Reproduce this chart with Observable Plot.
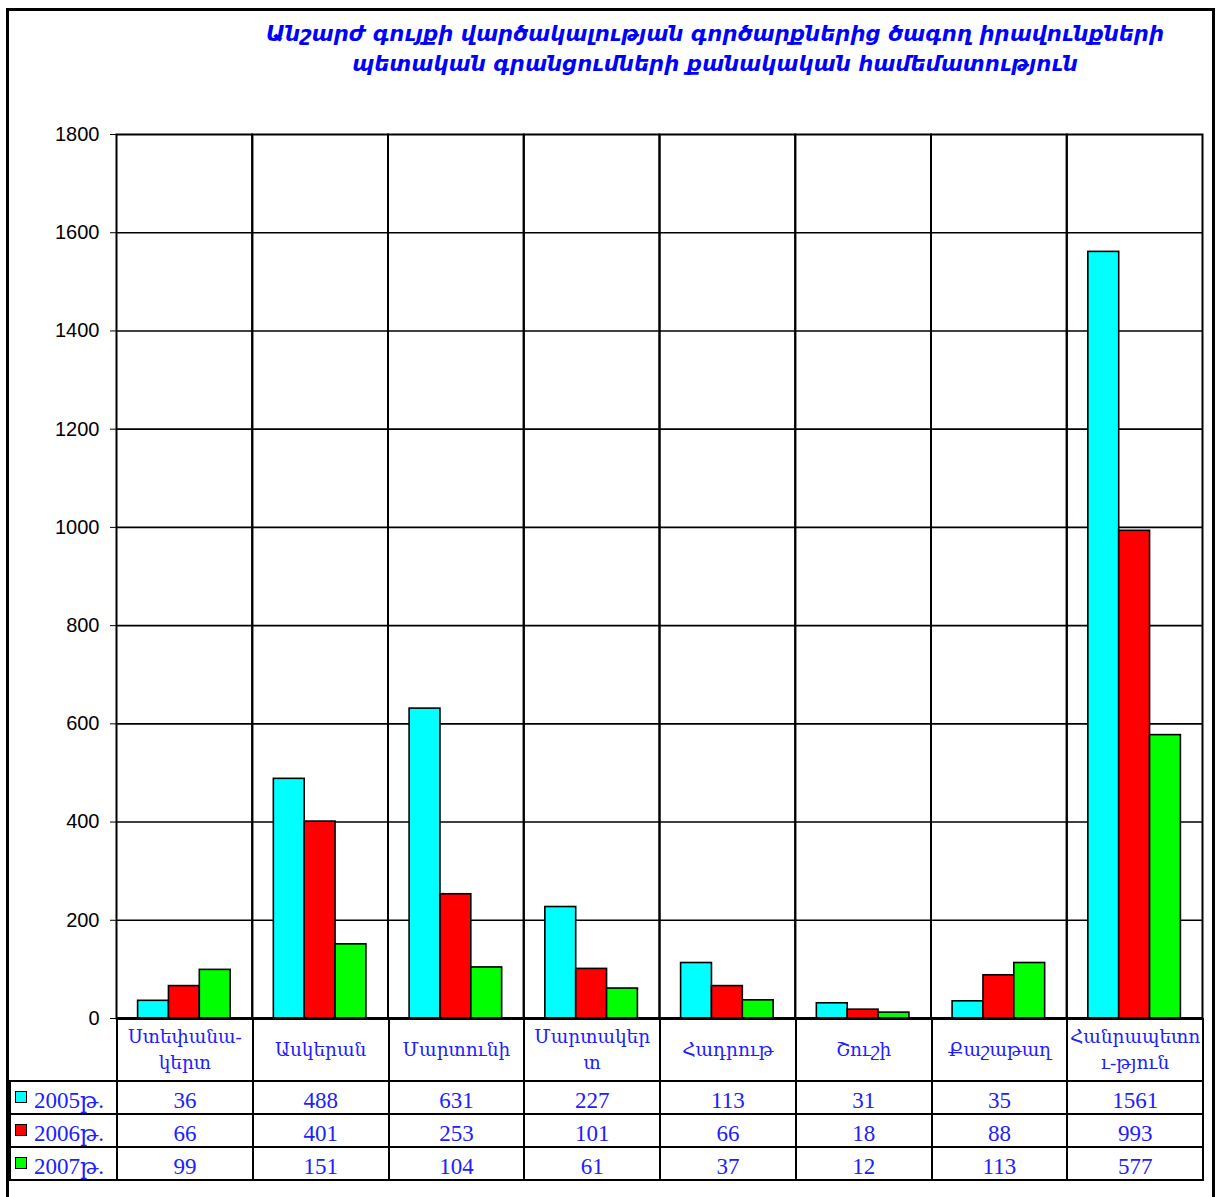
<!DOCTYPE html>
<html>
<head>
<meta charset="utf-8">
<script src="https://cdn.jsdelivr.net/npm/d3@7"></script>
<script src="https://cdn.jsdelivr.net/npm/@observablehq/plot@0.6"></script>
<style>
  html, body { margin: 0; padding: 0; background: #fff; }
  #wrap { position: relative; width: 1217px; height: 1197px; overflow: hidden; background: #fff; }
  #chart { position: absolute; left: 0; top: 0; }
  #frame { position: absolute; left: 6px; top: 8px; width: 1203px; height: 1300px;
           border-left: 3px solid #000; border-top: 3px solid #000; border-right: 3px solid #000; pointer-events: none; }
  #title { position: absolute; left: 215px; width: 1000px; top: 19px; text-align: center;
           font-family: "DejaVu Sans", sans-serif; font-weight: bold; font-style: italic;
           font-size: 21.2px; line-height: 30px; color: #0000ff; }
  #tbl { position: absolute; left: 9px; top: 1018px; border-collapse: collapse; table-layout: fixed;
         font-family: "Liberation Serif", "DejaVu Serif", serif; color: #2020ff; }
  #tbl td { border: 2px solid #000; text-align: center; padding: 0; white-space: nowrap; overflow: hidden; }
  #tbl tr.head td { height: 60px; font-size: 18.5px; line-height: 26px; }
  #tbl tr.head td.blank { border-top: none; border-left: none; }
  #tbl tr.row td { height: 31px; font-size: 23px; line-height: 31px; }
  #tbl tr.row td span.v { position: relative; top: 3px; }
  #tbl td.leg { text-align: left; padding-left: 4px; }
  .key { display: inline-block; width: 10px; height: 10px; border: 1.5px solid #000; margin-right: 7px; vertical-align: 2px; }
</style>
</head>
<body>
<div id="wrap">
  <div id="chart"></div>
  <div id="title">Անշարժ գույքի վարծակալության գործարքներից ծագող իրավունքների<br>պետական գրանցումների քանակական համեմատություն</div>
  <table id="tbl"></table>
  <div id="frame"></div>
</div>
<script>
// ---- data ----
const categories = ["Ստեփանակերտ", "Ասկերան", "Մարտունի", "Մարտակերտ", "Հադրութ", "Շուշի", "Քաշաթաղ", "Հանրապետություն"];
const categoryLabels = ["Ստեփանա-\nկերտ", "Ասկերան", "Մարտունի", "Մարտակեր\nտ", "Հադրութ", "Շուշի", "Քաշաթաղ", "Հանրապետո\nւ-թյուն"];
const series = ["2005թ.", "2006թ.", "2007թ."];
const values2005 = [36, 488, 631, 227, 113, 31, 35, 1561];
const values2006 = [66, 401, 253, 101, 66, 18, 88, 993];
const values2007 = [99, 151, 104, 61, 37, 12, 113, 577];
const seriesColors = ["#00ffff", "#ff0000", "#00ff00"];
const yTicks = [0, 200, 400, 600, 800, 1000, 1200, 1400, 1600, 1800];

const seriesValues = [values2005, values2006, values2007];
const data = [];
categories.forEach((c, i) => {
  series.forEach((s, j) => data.push({category: c, series: s, value: seriesValues[j][i]}));
});

const chart = Plot.plot({
  width: 1217,
  height: 1197,
  marginLeft: 116,
  marginRight: 15,
  marginTop: 134,
  marginBottom: 179,
  style: {fontFamily: "'Liberation Sans', Arial, sans-serif", fontSize: "20px", color: "#000", background: "transparent"},
  fx: {domain: categories, padding: 0, round: false, axis: null, label: null},
  x: {domain: series, paddingInner: 0, paddingOuter: 0.7, round: false, axis: null, label: null},
  y: {domain: [0, 1800], ticks: yTicks, tickSize: 6, tickPadding: 11, label: null, tickFormat: d => String(d)},
  color: {domain: series, range: seriesColors},
  marks: [
    Plot.ruleY(yTicks.slice(1, -1), {stroke: "#000", strokeWidth: 1.6}),
    Plot.barY(data, {fx: "category", x: "series", y: "value", fill: "series", stroke: "#000", strokeWidth: 1.6, inset: 0}),
    Plot.frame({stroke: "#000", strokeWidth: 2}),
    Plot.ruleY([0], {stroke: "#000", strokeWidth: 3})
  ]
});
document.getElementById("chart").appendChild(chart);

// ---- data table ----
const tbl = document.getElementById("tbl");
const colW = (1202 - 116) / categories.length;
const cg = document.createElement("colgroup");
const c0 = document.createElement("col"); c0.style.width = (116 - 9) + "px"; cg.appendChild(c0);
categories.forEach(() => { const c = document.createElement("col"); c.style.width = colW + "px"; cg.appendChild(c); });
tbl.appendChild(cg);
tbl.style.width = (1202 - 9) + "px";

const head = document.createElement("tr"); head.className = "head";
const blank = document.createElement("td"); blank.className = "blank"; head.appendChild(blank);
categoryLabels.forEach(l => {
  const td = document.createElement("td");
  td.innerHTML = l.split("\n").join("<br>");
  head.appendChild(td);
});
tbl.appendChild(head);

series.forEach((s, j) => {
  const tr = document.createElement("tr"); tr.className = "row";
  const leg = document.createElement("td"); leg.className = "leg";
  const key = document.createElement("span"); key.className = "key"; key.style.background = seriesColors[j];
  leg.appendChild(key);
  const lt = document.createElement("span"); lt.className = "v"; lt.textContent = s;
  leg.appendChild(lt);
  tr.appendChild(leg);
  seriesValues[j].forEach(v => {
    const td = document.createElement("td");
    const sp = document.createElement("span"); sp.className = "v"; sp.textContent = v;
    td.appendChild(sp);
    tr.appendChild(td);
  });
  tbl.appendChild(tr);
});
</script>
</body>
</html>
